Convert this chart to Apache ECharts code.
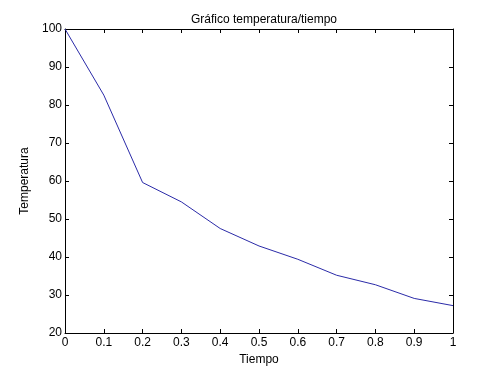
<!DOCTYPE html>
<html>
<head>
<meta charset="utf-8">
<script src="https://cdn.jsdelivr.net/npm/echarts@6/dist/echarts.min.js"></script>
<style>html,body{margin:0;padding:0;background:#fff}#c{width:500px;height:374px}</style>
</head>
<body>
<div id="c"></div>
<script>
var tiempo = [0, 0.1, 0.2, 0.3, 0.4, 0.5, 0.6, 0.7, 0.8, 0.9, 1.0];
var temperatura = [100, 82.6, 59.6, 54.5, 47.5, 42.9, 39.4, 35.2, 32.7, 29.1, 27.2];
var titulo = 'Gráfico temperatura/tiempo';
var nombreX = 'Tiempo';
var nombreY = 'Temperatura';

var font = 'Liberation Sans, Arial, sans-serif';
var chart = echarts.init(document.getElementById('c'));
function axisLine() { return {show: true, onZero: false, lineStyle: {color: '#000', width: 1}}; }
function tick() { return {show: true, inside: true, length: 4, lineStyle: {color: '#000', width: 1}}; }
chart.setOption({
  animation: false,
  backgroundColor: '#fff',
  title: {
    text: titulo, left: 259, top: 9, textAlign: 'center',
    textStyle: {fontFamily: font, fontSize: 12, fontWeight: 'normal', color: '#000'}
  },
  grid: {left: 65, right: 47, top: 29, bottom: 41},
  xAxis: [{
    type: 'value', min: 0, max: 1, interval: 0.1,
    name: nombreX, nameLocation: 'middle', nameGap: 20,
    nameTextStyle: {fontFamily: font, fontSize: 12, color: '#000'},
    axisLine: axisLine(), axisTick: tick(), splitLine: {show: false},
    axisLabel: {fontFamily: font, fontSize: 12, color: '#000', margin: 4}
  }, {
    type: 'value', min: 0, max: 1, interval: 0.1, position: 'top',
    axisLine: axisLine(), axisTick: tick(), splitLine: {show: false},
    axisLabel: {show: false}
  }],
  yAxis: [{
    type: 'value', min: 20, max: 100, interval: 10,
    name: nombreY, nameLocation: 'middle', nameGap: 29,
    nameTextStyle: {fontFamily: font, fontSize: 12, color: '#000'},
    axisLine: axisLine(), axisTick: tick(), splitLine: {show: false},
    axisLabel: {fontFamily: font, fontSize: 12, color: '#000', margin: 3}
  }, {
    type: 'value', min: 20, max: 100, interval: 10, position: 'right',
    axisLine: axisLine(), axisTick: tick(), splitLine: {show: false},
    axisLabel: {show: false}
  }],
  series: [{
    type: 'line',
    data: tiempo.map(function (t, i) { return [t, temperatura[i]]; }),
    showSymbol: false, symbol: 'none',
    lineStyle: {color: '#2b2ba8', width: 1},
    xAxisIndex: 0, yAxisIndex: 0
  }]
});
</script>
</body>
</html>
